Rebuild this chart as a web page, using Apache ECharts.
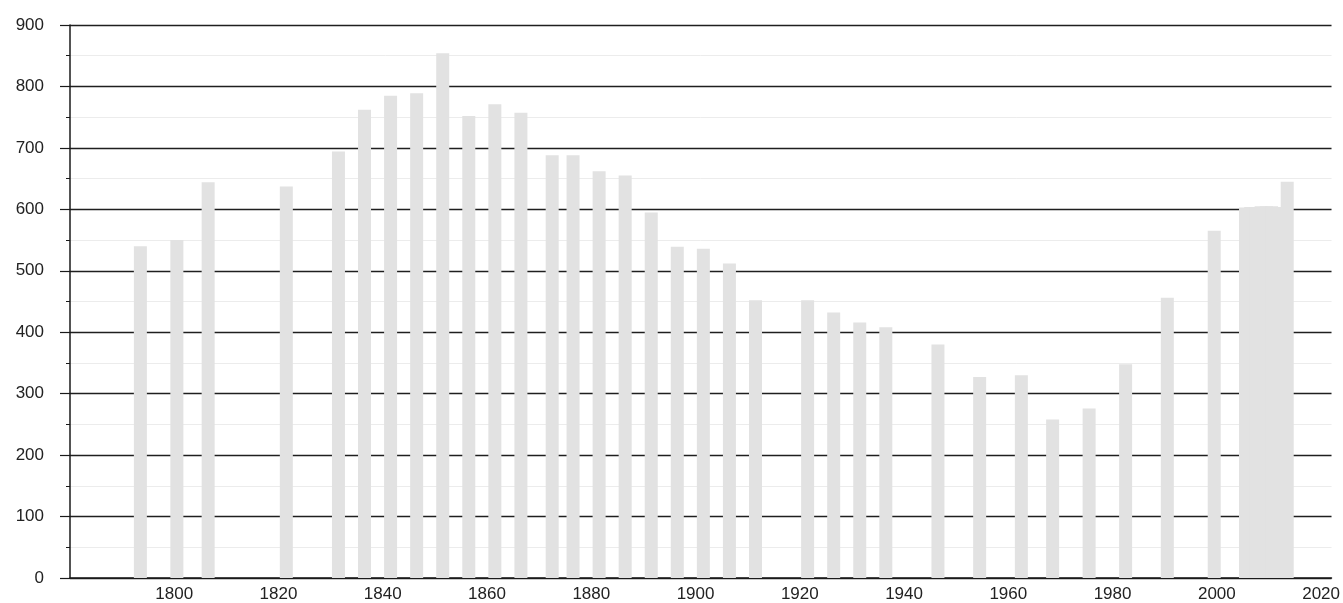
<!DOCTYPE html>
<html>
<head>
<meta charset="utf-8">
<script src="https://cdn.jsdelivr.net/npm/echarts@6/dist/echarts.min.js"></script>
<style>
  html, body { margin: 0; padding: 0; background: #ffffff; }
  #chart { width: 1343px; height: 603px; }
</style>
</head>
<body>
<div id="chart"></div>
<script>
// Census years and population values
const years = [1793, 1800, 1806, 1821, 1831, 1836, 1841, 1846, 1851, 1856, 1861, 1866,
  1872, 1876, 1881, 1886, 1891, 1896, 1901, 1906, 1911, 1921, 1926, 1931, 1936,
  1946, 1954, 1962, 1968, 1975, 1982, 1990, 1999,
  2005, 2006, 2007, 2008, 2009, 2010, 2011, 2012, 2013];
const population = [540, 550, 644, 637, 694, 762, 785, 789, 854, 752, 771, 757,
  688, 688, 662, 655, 595, 539, 536, 512, 452, 452, 432, 416, 408,
  380, 327, 330, 258, 276, 348, 456, 565,
  603, 604, 604, 605, 605, 605, 604, 604, 645];
const yTicks = [0, 100, 200, 300, 400, 500, 600, 700, 800, 900];
const xTickLabels = [1800, 1820, 1840, 1860, 1880, 1900, 1920, 1940, 1960, 1980, 2000, 2020];

const data = years.map((y, i) => [y + 0.5, population[i]]);

const chart = echarts.init(document.getElementById('chart'), null, { renderer: 'canvas' });
const font = 'Liberation Sans, Arial, Helvetica, sans-serif';
chart.setOption({
  animation: false,
  backgroundColor: '#ffffff',
  grid: { left: 70, right: 11, top: 25, bottom: 24, containLabel: false },
  xAxis: {
    type: 'value',
    min: 1780,
    max: 2022,
    interval: 20,
    axisLine: { show: true, onZero: false, lineStyle: { color: '#1a1a1a', width: 1.5 } },
    axisTick: { show: false },
    splitLine: { show: false },
    axisLabel: {
      margin: 8,
      color: '#222',
      fontSize: 17,
      fontFamily: font,
      showMinLabel: true,
      showMaxLabel: true,
      formatter: v => (xTickLabels.indexOf(v) >= 0 ? String(v) : '')
    }
  },
  yAxis: {
    type: 'value',
    min: yTicks[0],
    max: yTicks[yTicks.length - 1],
    interval: 100,
    axisLine: { show: true, lineStyle: { color: '#1a1a1a', width: 1.5 } },
    axisTick: { show: true, length: 10, lineStyle: { color: '#1a1a1a', width: 1.2 } },
    minorTick: { show: true, splitNumber: 2, length: 4, lineStyle: { color: '#1a1a1a', width: 1 } },
    splitLine: { show: true, lineStyle: { color: '#1f1f1f', width: 1.3 } },
    minorSplitLine: { show: true, lineStyle: { color: '#ececec', width: 1 } },
    axisLabel: {
      margin: 26,
      color: '#222',
      fontSize: 17,
      fontFamily: font
    }
  },
  series: [{
    type: 'bar',
    data: data,
    barWidth: 13,
    itemStyle: { color: '#e2e2e2' },
    emphasis: { disabled: true }
  }]
});
</script>
</body>
</html>
